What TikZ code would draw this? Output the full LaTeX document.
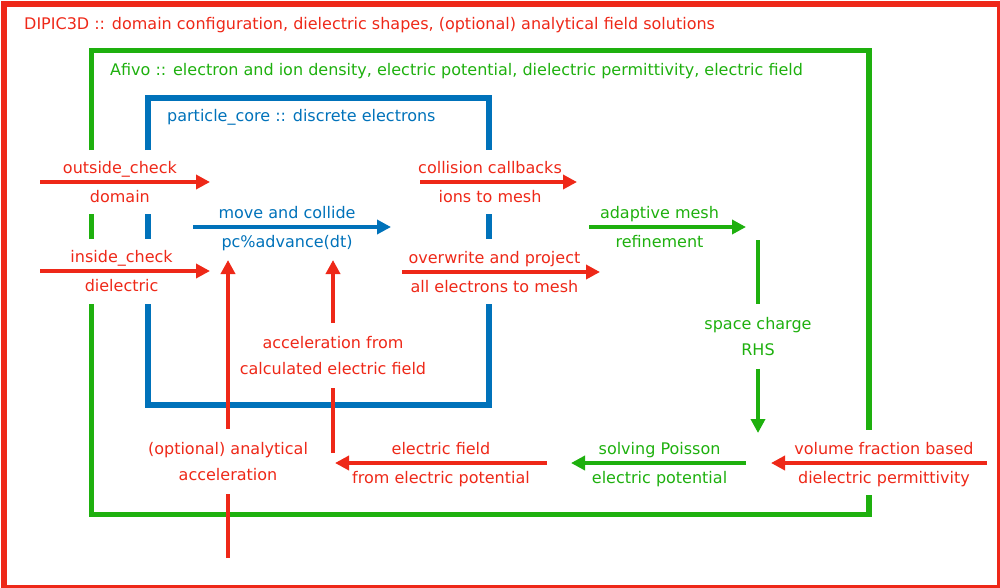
\documentclass[tikz,border=0pt]{standalone}
\usepackage{fontspec}
\setmainfont{DejaVu Sans}
\usepackage{tikz}
\usetikzlibrary{arrows.meta}

\definecolor{dred}{RGB}{238,40,24}
\definecolor{dgreen}{RGB}{30,176,14}
\definecolor{dblue}{RGB}{0,114,186}

\tikzset{
  frame/.style={line width=5.5pt},
  flow/.style={line width=3.5pt, -{Triangle[length=14pt,width=14pt]}},
  bare/.style={line width=3.5pt},
  txt/.style={inner sep=0pt, font=\fontsize{16}{26}\selectfont},
  toplbl/.style={txt, text height=12pt, text depth=4pt, anchor=south, yshift=3pt},
  botlbl/.style={txt, text height=12pt, text depth=4pt, anchor=north, yshift=-7pt},
  vlbl/.style={txt, align=center, inner sep=13pt, anchor=north},
  title/.style={txt, anchor=base west},
}

\begin{document}
\begin{tikzpicture}[x=1pt,y=-1pt]
\useasboundingbox (0,0) rectangle (1000,587);

\draw[dred, line width=6pt] (4,4) rectangle (1000,587.5);
\draw[frame, dgreen] (91.5,150) -- (91.5,50.5) -- (869,50.5) -- (869,430);
\draw[frame, dgreen] (869,495) -- (869,514.5) -- (91.5,514.5) -- (91.5,304);
\draw[frame, dgreen] (91.5,214) -- (91.5,239);
\draw[frame, dblue] (148,150) -- (148,98) -- (489,98) -- (489,150);
\draw[frame, dblue] (148,304) -- (148,405) -- (489,405) -- (489,304);
\draw[frame, dblue] (148,214) -- (148,239);
\draw[frame, dblue] (489,214) -- (489,239);

\node[title, dred] (dipic) at (24,29) {DIPIC3D :: domain configuration, dielectric shapes, (optional) analytical field solutions};
\node[title, dgreen] (afivo) at (110,75) {Afivo :: electron and ion density, electric potential, dielectric permittivity, electric field};
\node[title, dblue] (pcore) at (167,121.5) {particle\_core :: discrete electrons};

\coordinate (oc-a) at (40,182);
\coordinate (oc-b) at (210,182);
\coordinate (ic-a) at (40,271);
\coordinate (ic-b) at (210,271);
\coordinate (mv-a) at (193,227);
\coordinate (mv-b) at (391,227);
\coordinate (cc-a) at (420,182);
\coordinate (cc-b) at (577,182);
\coordinate (op-a) at (402,272);
\coordinate (op-b) at (600,272);
\coordinate (am-a) at (589,227);
\coordinate (am-b) at (746,227);
\coordinate (ef-a) at (547,463);
\coordinate (ef-b) at (335,463);
\coordinate (sp-a) at (746,463);
\coordinate (sp-b) at (571,463);
\coordinate (vf-a) at (987,463);
\coordinate (vf-b) at (771,463);

\draw[flow, dred] (oc-a) -- node[toplbl, pos=0.47] (oc-t) {outside\_check} node[botlbl, pos=0.47] (oc-d) {domain} (oc-b);
\draw[flow, dred] (ic-a) -- node[toplbl, pos=0.48] (ic-t) {inside\_check} node[botlbl, pos=0.48] (ic-d) {dielectric} (ic-b);
\draw[flow, dblue] (mv-a) -- node[toplbl, pos=0.475] (mv-t) {move and collide} node[botlbl, pos=0.475] (mv-d) {pc\%advance(dt)} (mv-b);
\draw[flow, dred] (cc-a) -- node[toplbl, pos=0.446] (cc-t) {collision callbacks} node[botlbl, pos=0.446] (cc-d) {ions to mesh} (cc-b);
\draw[flow, dred] (op-a) -- node[toplbl, pos=0.467] (op-t) {overwrite and project} node[botlbl, pos=0.467] (op-d) {all electrons to mesh} (op-b);
\draw[flow, dgreen] (am-a) -- node[toplbl, pos=0.449] (am-t) {adaptive mesh} node[botlbl, pos=0.449] (am-d) {refinement} (am-b);
\draw[flow, dred] (ef-a) -- node[toplbl] (ef-t) {electric field} node[botlbl] (ef-d) {from electric potential} (ef-b);
\draw[flow, dgreen] (sp-a) -- node[toplbl, pos=0.494] (sp-t) {solving Poisson} node[botlbl, pos=0.494] (sp-d) {electric potential} (sp-b);
\draw[flow, dred] (vf-a) -- node[toplbl, pos=0.477] (vf-t) {volume fraction based} node[botlbl, pos=0.477] (vf-d) {dielectric permittivity} (vf-b);

\node[vlbl, dgreen] (sc) at (758,304) {space charge\\RHS};
\coordinate (sc-a) at (758,240);
\coordinate (sc-b) at (758,433);
\draw[bare, dgreen] (sc-a) -- (sc);
\draw[flow, dgreen] (sc) -- (sc-b);

\node[vlbl, dred] (cf) at (333,323) {acceleration from\\calculated electric field};
\coordinate (cf-a) at (333,453);
\coordinate (cf-b) at (333,260);
\draw[bare, dred] (cf-a) -- (cf);
\draw[flow, dred] (cf) -- (cf-b);

\node[vlbl, dred] (aa) at (228,429) {(optional) analytical\\acceleration};
\coordinate (aa-a) at (228,558);
\coordinate (aa-b) at (228,260);
\draw[bare, dred] (aa-a) -- (aa);
\draw[flow, dred] (aa) -- (aa-b);
\end{tikzpicture}
\end{document}
